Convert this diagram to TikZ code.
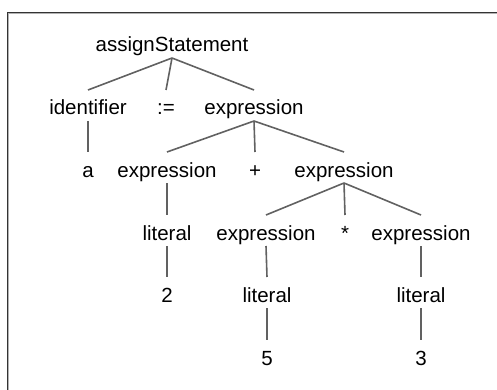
\documentclass[tikz,border=0pt]{standalone}
\usepackage{fontspec}
\setmainfont{Liberation Sans}
\begin{document}
\begin{tikzpicture}[x=1pt,y=1pt,
  lbl/.style={inner sep=0pt, anchor=base, font=\fontsize{20.5}{24}\selectfont},
  edge/.style={draw=black!62, line width=1.6pt}]
\useasboundingbox (0,0) rectangle (497,-390);
% frame (only top and left edges visible)
\draw[black!80, line width=1pt] (7.5,-390) -- (7.5,-12.5) -- (497,-12.5);
\draw[black!30, line width=1pt] (8.5,-390) -- (8.5,-13.5) -- (497,-13.5);
% row 0
\node[lbl] (root) at (172,-52) {assignStatement};
% row 1
\node[lbl] (id) at (88,-115) {identifier};
\node[lbl] (asg) at (166,-115) {:=};
\node[lbl] (e1) at (254,-115) {expression};
% row 2
\node[lbl] (a) at (88,-177) {a};
\node[lbl] (e2) at (167,-177) {expression};
\node[lbl] (plus) at (255,-177) {+};
\node[lbl] (e3) at (344,-177) {expression};
% row 3
\node[lbl] (l1) at (167,-240) {literal};
\node[lbl] (e4) at (266,-240) {expression};
\node[lbl] (star) at (345,-240) {*};
\node[lbl] (e5) at (421,-240) {expression};
% row 4
\node[lbl] (two) at (167,-302) {2};
\node[lbl] (l2) at (267,-302) {literal};
\node[lbl] (l3) at (421,-302) {literal};
% row 5
\node[lbl] (five) at (267,-365) {5};
\node[lbl] (three) at (421,-365) {3};
% edges
\foreach \p/\c in {root/id, root/asg, root/e1, id/a, e1/e2, e1/plus, e1/e3,
                   e2/l1, e3/e4, e3/star, e3/e5, l1/two, e4/l2, e5/l3,
                   l2/five, l3/three}
  \draw[edge] ([yshift=-6pt]\p.base) -- ([yshift=25pt]\c.base);
\end{tikzpicture}
\end{document}
